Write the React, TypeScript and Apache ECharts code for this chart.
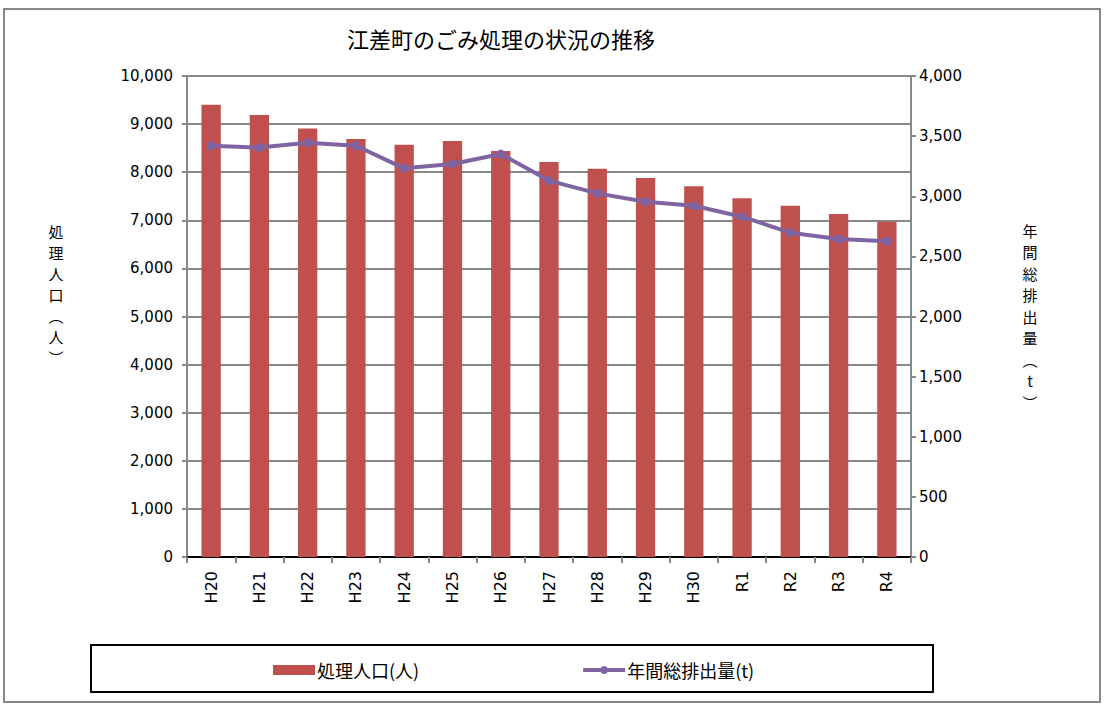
import React, { useEffect, useRef } from "react";
import * as echarts from "echarts";

const categories = ["H20", "H21", "H22", "H23", "H24", "H25", "H26", "H27", "H28", "H29", "H30", "R1", "R2", "R3", "R4"];
const population = [9400, 9190, 8910, 8690, 8570, 8650, 8440, 8210, 8070, 7880, 7710, 7460, 7300, 7130, 6970];
const emissions = [3420, 3405, 3445, 3420, 3232, 3268, 3351, 3130, 3024, 2955, 2921, 2830, 2697, 2644, 2625];
const leftTicks = { min: 0, max: 10000, interval: 1000 };
const rightTicks = { min: 0, max: 4000, interval: 500 };
const titleText = "江差町のごみ処理の状況の推移";
const barName = "処理人口(人)";
const lineName = "年間総排出量(t)";
const leftAxisName = ["処", "理", "人", "口", "︵", "人", "︶"];
const rightAxisName = ["年", "間", "総", "排", "出", "量", "︵", "t", "︶"];

const FONT = "'DejaVu Sans', 'Noto Sans CJK JP', sans-serif";
const CJK = "'Noto Sans CJK JP', 'Liberation Sans', sans-serif";

export default function App() {
  const ref = useRef<HTMLDivElement>(null);
  useEffect(() => {
    document.body.style.margin = "0";
    if (!ref.current) return;
    const chart = echarts.init(ref.current, undefined, { renderer: "svg" });
    const fmt = (v: number) => v.toLocaleString("en-US");
    const nameTexts = (chars: string[], x: number, y0: number, step: number) =>
      chars.map((c, i) => ({
        type: "text",
        x,
        y: y0 + i * step,
        style: {
          text: c,
          font: `15px ${CJK}`,
          lineHeight: 19,
          fill: "#000",
          align: "center",
          verticalAlign: "middle",
        },
      }));
    chart.setOption({
      animation: false,
      backgroundColor: "#ffffff",
      textStyle: { fontFamily: FONT },
      title: {
        text: titleText,
        left: 342,
        top: 22,
        textStyle: { fontFamily: CJK, fontSize: 22, fontWeight: "normal", color: "#000" },
      },
      grid: { left: 187, right: 194, top: 76, bottom: 151 },
      legend: {
        left: 268,
        top: 656,
        itemGap: 162,
        itemWidth: 42,
        itemHeight: 10,
        textStyle: { fontFamily: CJK, fontSize: 18, color: "#000", padding: [0, 0, 0, -3] },
        data: [
          { name: barName, icon: "rect" },
          { name: lineName, lineStyle: { width: 4 } },
        ],
      },
      xAxis: [
        {
          type: "category",
          data: categories,
          axisLine: { lineStyle: { color: "#888", width: 2 } },
          axisTick: { show: true, alignWithLabel: false, length: 6, lineStyle: { color: "#888", width: 2 } },
          axisLabel: { rotate: 90, color: "#000", fontSize: 16, fontFamily: FONT, margin: 14 },
        },
        {
          type: "category",
          data: categories,
          position: "top",
          axisLine: { lineStyle: { color: "#000", width: 2 } },
          axisTick: { show: false },
          axisLabel: { show: false },
        },
      ],
      yAxis: [
        {
          type: "value",
          min: leftTicks.min,
          max: leftTicks.max,
          interval: leftTicks.interval,
          axisLine: { show: true, lineStyle: { color: "#888", width: 2 } },
          axisTick: { show: true, length: 5, lineStyle: { color: "#888", width: 2 } },
          axisLabel: { color: "#000", fontSize: 15, fontFamily: FONT, margin: 14, formatter: fmt },
          splitLine: { show: true, lineStyle: { color: "#888", width: 2 } },
        },
        {
          type: "value",
          min: rightTicks.min,
          max: rightTicks.max,
          interval: rightTicks.interval,
          position: "right",
          axisLine: { show: true, lineStyle: { color: "#888", width: 2 } },
          axisTick: { show: true, length: 5, lineStyle: { color: "#888", width: 2 } },
          axisLabel: { color: "#000", fontSize: 15, fontFamily: FONT, margin: 8, formatter: fmt },
          splitLine: { show: false },
        },
      ],
      series: [
        {
          name: barName,
          type: "bar",
          data: population,
          barWidth: "40%",
          itemStyle: { color: "#C0504D" },
        },
        {
          name: lineName,
          type: "line",
          yAxisIndex: 1,
          data: emissions,
          symbol: "circle",
          symbolSize: 9,
          lineStyle: { color: "#8064A2", width: 4 },
          itemStyle: { color: "#8064A2" },
        },
      ],
      graphic: [
        {
          type: "rect",
          shape: { x: 4, y: 9, width: 1096, height: 693 },
          style: { fill: "none", stroke: "#888", lineWidth: 2 },
          z: 100,
        },
        {
          type: "rect",
          shape: { x: 91, y: 645, width: 842, height: 47 },
          style: { fill: "none", stroke: "#000", lineWidth: 2 },
          z: 100,
        },
        ...nameTexts(leftAxisName, 56, 231, 21),
        ...nameTexts(rightAxisName, 1030, 230, 21.5),
      ],
    });
    return () => chart.dispose();
  }, []);
  return <div ref={ref} style={{ width: 1105, height: 708 }} />;
}
